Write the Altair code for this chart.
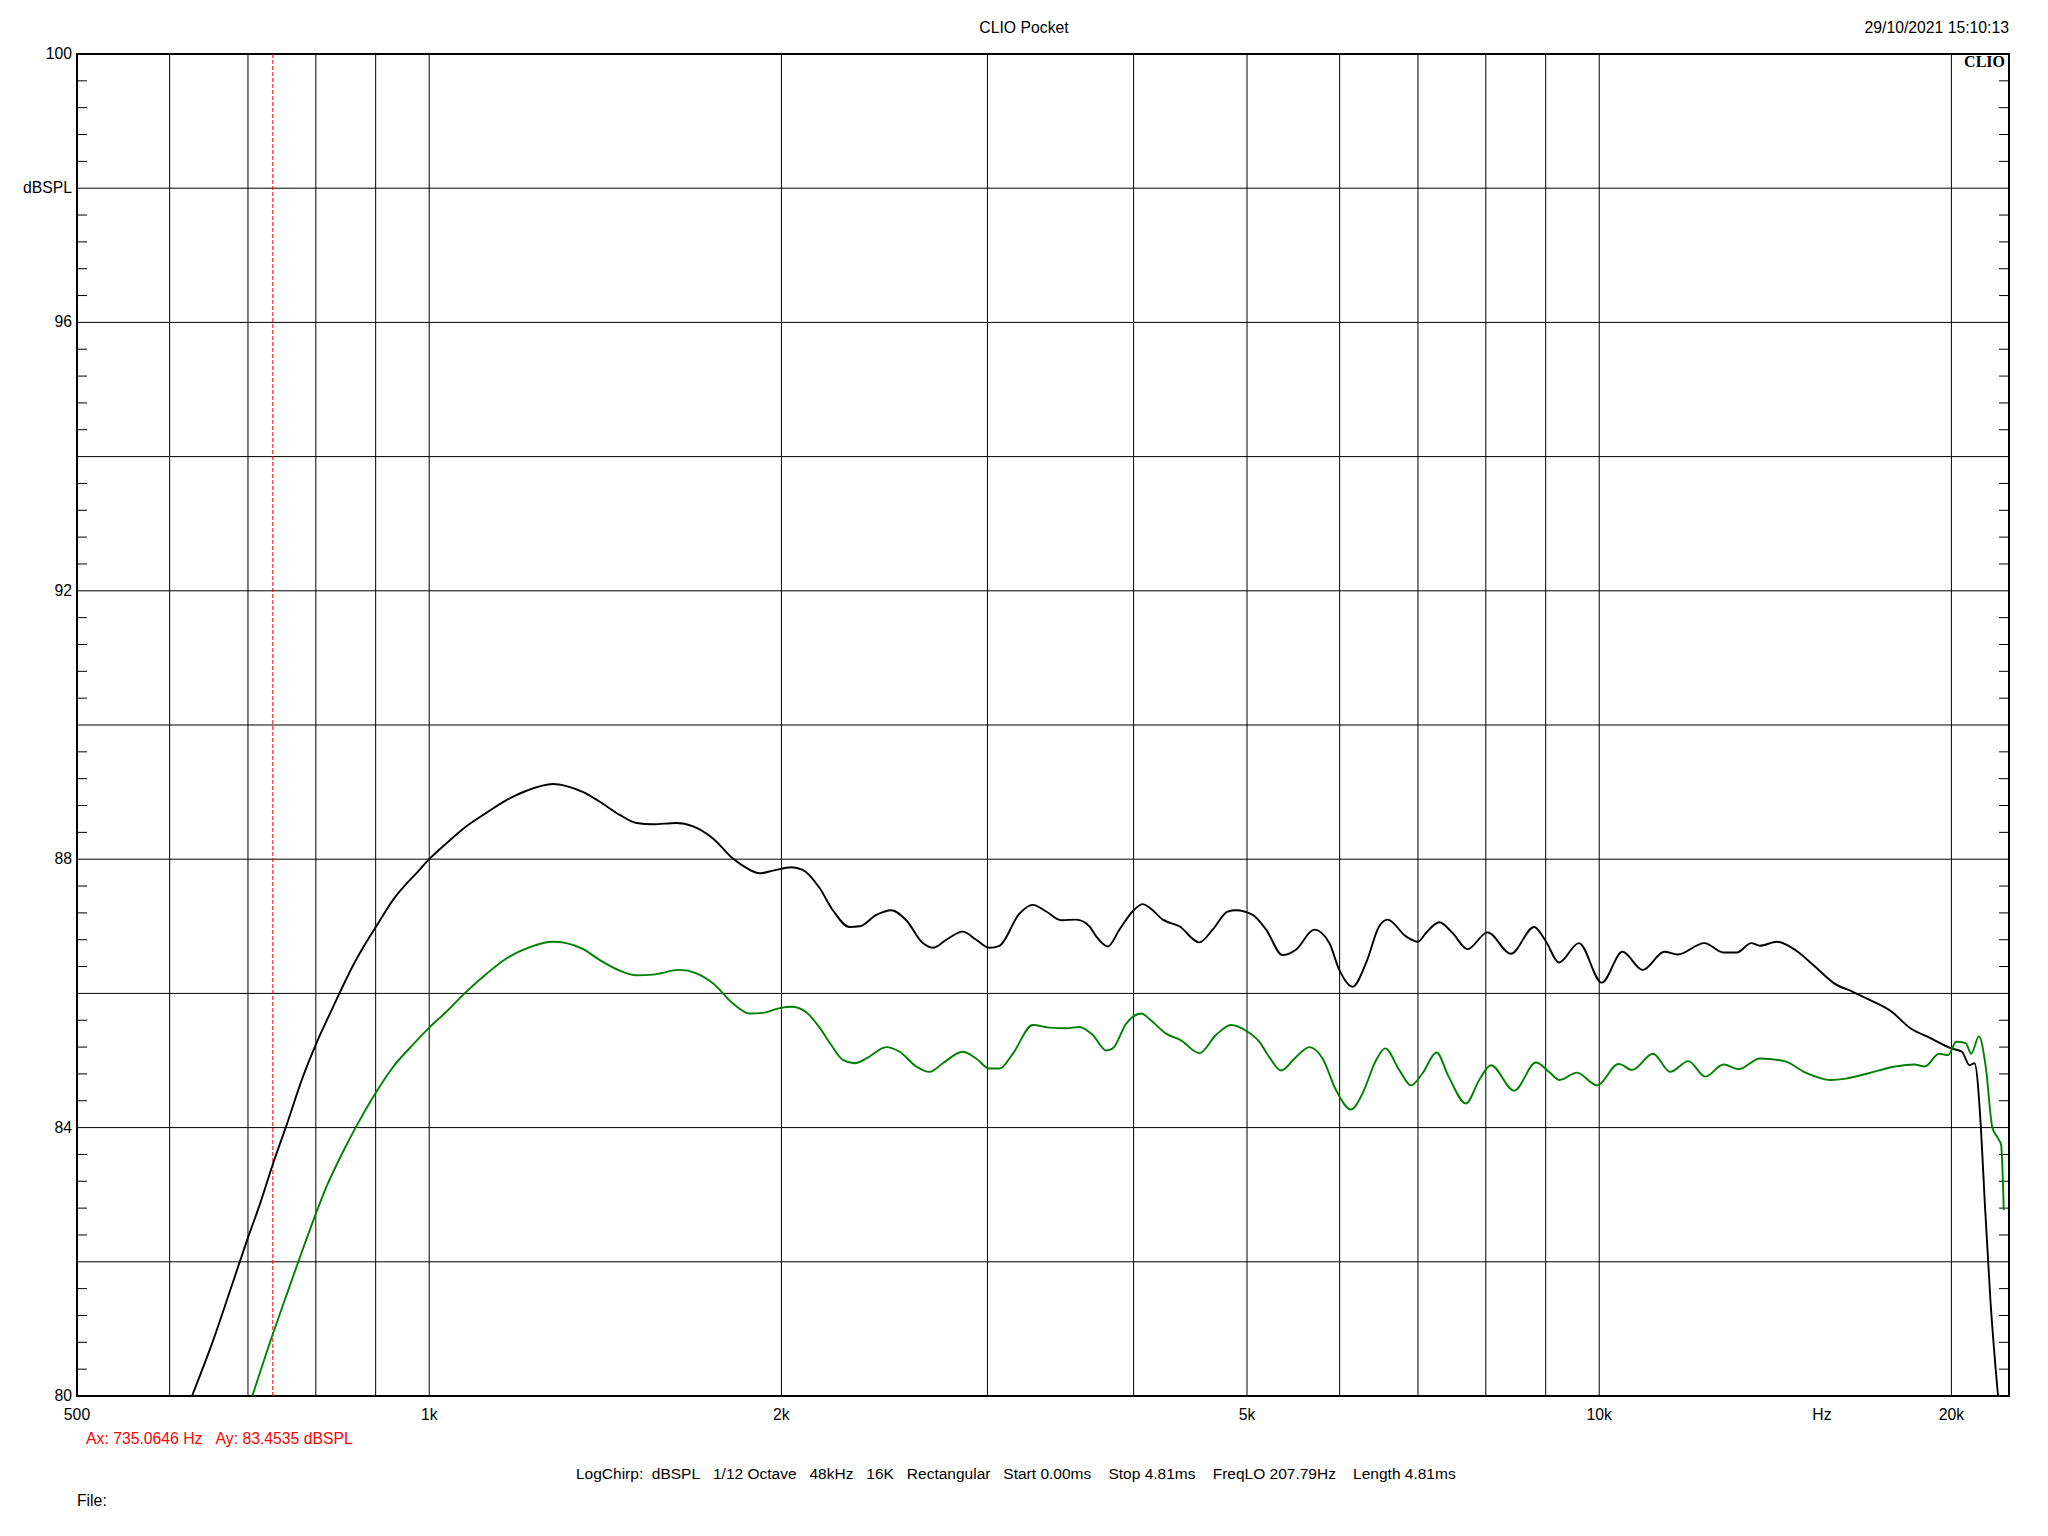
import altair as alt
import pandas as pd

# ---------------- data ----------------
BLACK_FREQ = [627, 654, 680, 700, 717, 735, 756, 780, 801, 817, 838, 861, 884, 901, 931, 982,
              1000, 1035, 1076, 1119, 1164, 1211, 1276, 1310, 1354, 1398, 1455, 1504, 1553,
              1627, 1681, 1748, 1818, 1867, 1916, 1967, 2040, 2086, 2156, 2213, 2287, 2333,
              2411, 2482, 2557, 2642, 2695, 2767, 2858, 2934, 3012, 3072, 3195, 3280, 3368,
              3469, 3572, 3667, 3716, 3802, 3890, 4000, 4073, 4126, 4236, 4377, 4552, 4673,
              4813, 4893, 5056, 5192, 5362, 5505, 5707, 5879, 5996, 6155, 6319, 6486, 6593,
              6836, 7000, 7111, 7300, 7493, 7717, 8027, 8404, 8798, 9000, 9239, 9608, 10051,
              10467, 10893, 11370, 11671, 12300, 12772, 13113, 13490, 13720, 14186, 14729,
              15290, 15880, 16488, 16990, 17771, 18450, 19155, 20000, 20420, 20724, 20929,
              21195, 21354, 21597, 21922]
BLACK_DB = [80.0, 80.84, 81.71, 82.36, 82.87, 83.45, 84.06, 84.76, 85.26, 85.59, 86.0, 86.42,
            86.77, 87.0, 87.39, 87.85, 88.0, 88.24, 88.49, 88.69, 88.88, 89.02, 89.12, 89.09,
            89.0, 88.86, 88.66, 88.54, 88.52, 88.54, 88.49, 88.31, 88.01, 87.87, 87.79, 87.83,
            87.88, 87.84, 87.57, 87.24, 86.99, 87.0, 87.17, 87.24, 87.09, 86.75, 86.68, 86.8,
            86.92, 86.8, 86.68, 86.71, 87.19, 87.32, 87.22, 87.09, 87.1, 87.0, 86.85, 86.7,
            86.95, 87.24, 87.33, 87.28, 87.1, 87.0, 86.76, 86.95, 87.22, 87.24, 87.17, 86.95,
            86.57, 86.65, 86.95, 86.75, 86.35, 86.1, 86.45, 87.0, 87.1, 86.85, 86.77, 86.9,
            87.06, 86.9, 86.66, 86.91, 86.59, 86.99, 86.78, 86.46, 86.75, 86.16, 86.62, 86.35,
            86.62, 86.58, 86.75, 86.61, 86.61, 86.75, 86.71, 86.77, 86.64, 86.4, 86.15, 86.02,
            85.91, 85.73, 85.48, 85.34, 85.18, 85.13, 84.93, 84.96, 84.0, 82.9, 81.42, 80.0]

GREEN_FREQ = [706, 735, 755, 774, 801, 817, 844, 867, 901, 931, 969, 1000, 1035, 1072, 1119,
              1164, 1219, 1276, 1310, 1354, 1398, 1455, 1504, 1553, 1637, 1692, 1748, 1818,
              1879, 1929, 1993, 2040, 2100, 2156, 2206, 2257, 2310, 2364, 2459, 2524, 2608,
              2677, 2748, 2858, 2934, 3012, 3072, 3153, 3280, 3389, 3503, 3596, 3691, 3789,
              3839, 3942, 4061, 4126, 4264, 4391, 4552, 4704, 4845, 4995, 5122, 5224, 5346,
              5505, 5652, 5802, 5957, 6135, 6277, 6444, 6563, 6746, 6904, 7063, 7260, 7435,
              7693, 7897, 8081, 8459, 8828, 9061, 9250, 9570, 9960, 10390, 10670, 11116, 11500,
              11920, 12320, 12772, 13160, 13720, 14400, 15010, 15760, 16250, 16990, 17900,
              18590, 18980, 19520, 19880, 20187, 20570, 20794, 21115, 21400, 21678, 21922,
              22056, 22170]
GREEN_DB = [80.0, 80.92, 81.5, 82.03, 82.74, 83.12, 83.64, 84.03, 84.53, 84.9, 85.24, 85.49,
            85.73, 86.0, 86.29, 86.52, 86.69, 86.77, 86.75, 86.66, 86.5, 86.34, 86.27, 86.28,
            86.35, 86.3, 86.15, 85.85, 85.7, 85.71, 85.78, 85.8, 85.72, 85.49, 85.23, 85.01,
            84.96, 85.03, 85.2, 85.13, 84.91, 84.83, 84.96, 85.13, 85.03, 84.88, 84.88, 85.1,
            85.53, 85.49, 85.48, 85.5, 85.38, 85.15, 85.18, 85.55, 85.7, 85.62, 85.4, 85.3,
            85.11, 85.38, 85.53, 85.44, 85.28, 85.05, 84.85, 85.05, 85.2, 85.03, 84.56, 84.27,
            84.51, 85.0, 85.18, 84.86, 84.63, 84.81, 85.12, 84.76, 84.36, 84.71, 84.93, 84.55,
            84.97, 84.83, 84.71, 84.82, 84.63, 84.95, 84.86, 85.1, 84.83, 84.99, 84.76, 84.94,
            84.87, 85.03, 84.99, 84.82, 84.71, 84.73, 84.81, 84.91, 84.94, 84.91, 85.1, 85.08,
            85.28, 85.26, 85.1, 85.36, 84.9, 84.0, 83.84, 83.74, 82.77]

X_DOMAIN = [500, 22400]
Y_DOMAIN = [80, 100]
X_GRID = [600, 700, 800, 900, 1000, 2000, 3000, 4000, 5000, 6000, 7000, 8000, 9000, 10000, 20000]
Y_GRID = [82, 84, 86, 88, 90, 92, 94, 96, 98]
Y_MINOR = [round(80 + 0.4 * i, 1) for i in range(1, 50) if i % 5 != 0]
X_LABELS = [500, 1000, 2000, 5000, 10000, 15500, 20000]
X_LABEL_TEXT = ["500", "1k", "2k", "5k", "10k", "Hz", "20k"]
Y_LABELS = [80, 84, 88, 92, 96, 98, 100]
Y_LABEL_TEXT = ["80", "84", "88", "92", "96", "dBSPL", "100"]
CURSOR_FREQ = [735.0646]

TITLE = "CLIO Pocket"
DATE = "29/10/2021 15:10:13"
BRAND = "CLIO"
CURSOR_TEXT = "Ax: 735.0646 Hz\u00a0\u00a0\u00a0Ay: 83.4535 dBSPL"
INFO_TEXT = ("LogChirp:\u00a0\u00a0dBSPL\u00a0\u00a0\u00a01/12 Octave\u00a0\u00a0\u00a048kHz\u00a0\u00a0\u00a0"
             "16K\u00a0\u00a0\u00a0Rectangular\u00a0\u00a0\u00a0Start 0.00ms\u00a0\u00a0\u00a0\u00a0"
             "Stop 4.81ms\u00a0\u00a0\u00a0\u00a0FreqLO 207.79Hz\u00a0\u00a0\u00a0\u00a0Length 4.81ms")
FILE_TEXT = "File:"

# ---------------- layout ----------------
W, H = 1932, 1342
FONT = "Liberation Sans"
FS = 15.75

xscale = alt.Scale(type="log", domain=X_DOMAIN, nice=False)
yscale = alt.Scale(domain=Y_DOMAIN, nice=False, zero=False)

lines_df = pd.concat([
    pd.DataFrame({"freq": BLACK_FREQ, "db": BLACK_DB, "series": "black"}),
    pd.DataFrame({"freq": GREEN_FREQ, "db": GREEN_DB, "series": "green"}),
])

hgrid = alt.Chart(pd.DataFrame({"v": Y_GRID})).mark_rule(color="black", strokeWidth=1).encode(
    y=alt.Y("v:Q", scale=yscale, axis=None))
vgrid = alt.Chart(pd.DataFrame({"f": X_GRID})).mark_rule(color="black", strokeWidth=1).encode(
    x=alt.X("f:Q", scale=xscale, axis=None))
minor_left = alt.Chart(pd.DataFrame({"v": Y_MINOR})).mark_rule(color="black", strokeWidth=1).encode(
    y=alt.Y("v:Q", scale=yscale, axis=None), x=alt.value(0), x2=alt.value(10))
minor_right = alt.Chart(pd.DataFrame({"v": Y_MINOR})).mark_rule(color="black", strokeWidth=1).encode(
    y=alt.Y("v:Q", scale=yscale, axis=None), x=alt.value(W - 10), x2=alt.value(W))
cursor = alt.Chart(pd.DataFrame({"f": CURSOR_FREQ})).mark_rule(
    color="#ff0000", strokeWidth=1, strokeDash=[4, 2]).encode(
    x=alt.X("f:Q", scale=xscale, axis=None))

curves = alt.Chart(lines_df).mark_line(strokeWidth=1.9, interpolate="monotone", clip=True).encode(
    x=alt.X("freq:Q", scale=xscale, axis=None),
    y=alt.Y("db:Q", scale=yscale, axis=None),
    color=alt.Color("series:N", scale=alt.Scale(domain=["black", "green"],
                                                range=["#000000", "#008000"]), legend=None),
    detail="series:N",
)

x_labels = alt.Chart(pd.DataFrame({"f": X_LABELS, "t": X_LABEL_TEXT})).mark_text(
    align="center", baseline="alphabetic", fontSize=FS, font=FONT, color="black").encode(
    x=alt.X("f:Q", scale=xscale, axis=None), y=alt.value(H + 24), text="t:N")
y_labels = alt.Chart(pd.DataFrame({"v": Y_LABELS, "t": Y_LABEL_TEXT})).mark_text(
    align="right", baseline="middle", fontSize=FS, font=FONT, color="black").encode(
    y=alt.Y("v:Q", scale=yscale, axis=None), x=alt.value(-5), text="t:N")


def label(text, x, y, align="left", size=FS, color="black", font=FONT, weight="normal"):
    return alt.Chart(pd.DataFrame({"t": [text]})).mark_text(
        align=align, baseline="alphabetic", fontSize=size, font=font, color=color,
        fontWeight=weight).encode(x=alt.value(x), y=alt.value(y), text="t:N")


texts = [
    label(TITLE, 947, -21, align="center"),
    label(DATE, W, -21, align="right"),
    label(BRAND, W - 4, 13, align="right", size=16, font="Liberation Serif", weight="bold"),
    label(CURSOR_TEXT, 9, 1390, color="#ff0000"),
    label(INFO_TEXT, 499, 1425, size=15.5),
    label(FILE_TEXT, 0, 1452),
]

chart = alt.layer(hgrid, vgrid, minor_left, minor_right, cursor, curves, x_labels, y_labels,
                  *texts).properties(
    width=W, height=H,
    autosize=alt.AutoSizeParams(type="none"),
    padding={"left": 69, "top": 46, "right": 30, "bottom": 130},
).configure(background="white").configure_view(stroke="black", strokeWidth=2, fill="white")

chart.save("out.html", embed_options={"renderer": "svg", "actions": False})
